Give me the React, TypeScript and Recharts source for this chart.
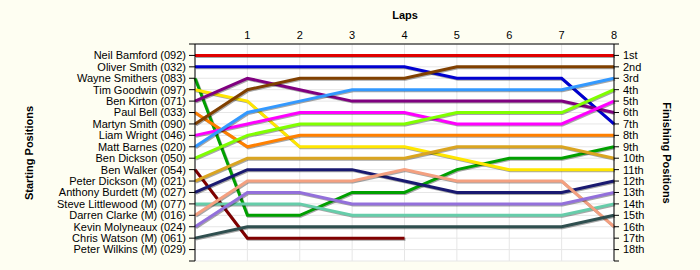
import React from 'react';
import { LineChart, Line, XAxis, YAxis, CartesianGrid, Label } from 'recharts';

const laps = [0, 1, 2, 3, 4, 5, 6, 7, 8];
const lapTicks = [1, 2, 3, 4, 5, 6, 7, 8];

const startingNames = [
  'Neil Bamford (092)',
  'Oliver Smith (032)',
  'Wayne Smithers (083)',
  'Tim Goodwin (097)',
  'Ben Kirton (071)',
  'Paul Bell (033)',
  'Martyn Smith (090)',
  'Liam Wright (046)',
  'Matt Barnes (020)',
  'Ben Dickson (050)',
  'Ben Walker (054)',
  'Peter Dickson (M) (021)',
  'Anthony Burdett (M) (027)',
  'Steve Littlewood (M) (077)',
  'Darren Clarke (M) (016)',
  'Kevin Molyneaux (024)',
  'Chris Watson (M) (061)',
  'Peter Wilkins (M) (029)',
];

const finishLabels = [
  '1st', '2nd', '3rd', '4th', '5th', '6th', '7th', '8th', '9th', '10th',
  '11th', '12th', '13th', '14th', '15th', '16th', '17th', '18th',
];

const positionTicks = [0, 1, 2, 3, 4, 5, 6, 7, 8, 9, 10, 11, 12, 13, 14, 15, 16, 17, 18, 19];

// position per lap (lap 0 = starting position)
const neilBamford = [1, 1, 1, 1, 1, 1, 1, 1, 1];
const oliverSmith = [2, 2, 2, 2, 2, 3, 3, 3, 7];
const wayneSmithers = [3, 15, 15, 13, 13, 11, 10, 10, 9];
const timGoodwin = [4, 5, 9, 9, 9, 10, 11, 11, 11];
const benKirton = [5, 3, 4, 5, 5, 5, 5, 5, 6];
const paulBell = [6, 9, 8, 8, 8, 8, 8, 8, 8];
const martynSmith = [7, 4, 3, 3, 3, 2, 2, 2, 2];
const liamWright = [8, 7, 6, 6, 6, 7, 7, 7, 5];
const mattBarnes = [9, 6, 5, 4, 4, 4, 4, 4, 3];
const benDickson = [10, 8, 7, 7, 7, 6, 6, 6, 4];
const benWalker = [11, 17, 17, 17, 17, null, null, null, null];
const peterDickson = [12, 10, 10, 10, 10, 9, 9, 9, 10];
const anthonyBurdett = [13, 11, 11, 11, 12, 13, 13, 13, 12];
const steveLittlewood = [14, 14, 14, 15, 15, 15, 15, 15, 14];
const darrenClarke = [15, 12, 12, 12, 11, 12, 12, 12, 16];
const kevinMolyneaux = [16, 13, 13, 14, 14, 14, 14, 14, 13];
const chrisWatson = [17, 16, 16, 16, 16, 16, 16, 16, 15];

const series = [
  { key: 'neil', values: neilBamford, color: '#e00000' },
  { key: 'oliver', values: oliverSmith, color: '#0000d0' },
  { key: 'wayne', values: wayneSmithers, color: '#00a000' },
  { key: 'tim', values: timGoodwin, color: '#ffe600' },
  { key: 'kirton', values: benKirton, color: '#800080' },
  { key: 'paul', values: paulBell, color: '#ff8000' },
  { key: 'martyn', values: martynSmith, color: '#804000' },
  { key: 'liam', values: liamWright, color: '#ff00ff' },
  { key: 'matt', values: mattBarnes, color: '#3399ff' },
  { key: 'bdickson', values: benDickson, color: '#80ff00' },
  { key: 'walker', values: benWalker, color: '#800000' },
  { key: 'pdickson', values: peterDickson, color: '#daa520' },
  { key: 'anthony', values: anthonyBurdett, color: '#191970' },
  { key: 'steve', values: steveLittlewood, color: '#66cdaa' },
  { key: 'darren', values: darrenClarke, color: '#f4a080' },
  { key: 'kevin', values: kevinMolyneaux, color: '#9370db' },
  { key: 'chris', values: chrisWatson, color: '#2f4f4f' },
];

const data = laps.map((lap, i) => {
  const row: Record<string, number | null> = { lap };
  series.forEach((s) => {
    row[s.key] = s.values[i];
  });
  return row;
});

const FONT = '"Liberation Sans", Arial, sans-serif';
const tickStyle = { fontSize: 11, fill: '#000', fontFamily: FONT };

export default function App() {
  return (
    <div
      style={{
        position: 'absolute',
        left: 0,
        top: 0,
        width: 700,
        height: 270,
        background: '#fefef2',
        fontFamily: FONT,
      }}
    >
      <style>{`.shadowed .recharts-line-curve { filter: drop-shadow(1px 1px 0px rgba(0,0,0,0.35)); }`}</style>
      <LineChart
        width={700}
        height={270}
        data={data}
        margin={{ top: 0, right: 0, bottom: 9, left: 0 }}
      >
        <CartesianGrid stroke="#e6e6e6" fill="#ffffff" yAxisId="left" />
        <XAxis
          dataKey="lap"
          type="number"
          orientation="top"
          domain={[0, 8]}
          ticks={lapTicks}
          height={44}
          axisLine={{ stroke: '#000' }}
          tickLine={false}
          tickSize={3}
          tickMargin={2}
          tick={tickStyle}
          interval={0}
        >
          <Label
            content={() => (
              <text x={405} y={19} textAnchor="middle" fontSize={11} fontWeight="bold" fontFamily={FONT} fill="#000">
                Laps
              </text>
            )}
          />
        </XAxis>
        <YAxis
          yAxisId="left"
          type="number"
          orientation="left"
          domain={[0, 19]}
          reversed
          ticks={positionTicks}
          interval={0}
          width={195}
          axisLine={{ stroke: '#000' }}
          tickLine={{ stroke: '#000' }}
          tickSize={6}
          tickMargin={3}
          tick={tickStyle}
          tickFormatter={(v: number) => (v >= 1 && v <= 18 ? startingNames[v - 1] : '')}
        >
          <Label
            content={() => (
              <text
                x={0}
                y={0}
                transform="translate(33,153) rotate(-90)"
                textAnchor="middle"
                fontSize={11}
                fontWeight="bold"
                fontFamily={FONT}
                fill="#000"
              >
                Starting Positions
              </text>
            )}
          />
        </YAxis>
        <YAxis
          yAxisId="right"
          type="number"
          orientation="right"
          domain={[0, 19]}
          allowDataOverflow
          reversed
          ticks={positionTicks}
          interval={0}
          width={86}
          axisLine={{ stroke: '#000' }}
          tickLine={{ stroke: '#000' }}
          tickSize={5}
          tickMargin={4}
          tick={tickStyle}
          tickFormatter={(v: number) => (v >= 1 && v <= 18 ? finishLabels[v - 1] : '')}
        >
          <Label
            content={() => (
              <text
                x={0}
                y={0}
                transform="translate(663,153) rotate(90)"
                textAnchor="middle"
                fontSize={11}
                fontWeight="bold"
                fontFamily={FONT}
                fill="#000"
              >
                Finishing Positions
              </text>
            )}
          />
        </YAxis>
        <Line
          yAxisId="right"
          dataKey="neil"
          type="linear"
          stroke="transparent"
          strokeWidth={0}
          dot={false}
          activeDot={false}
          legendType="none"
          isAnimationActive={false}
        />
        {series.map((s) => (
          <Line
            key={s.key}
            className="shadowed"
            yAxisId="left"
            dataKey={s.key}
            type="linear"
            stroke={s.color}
            strokeWidth={3}
            dot={false}
            activeDot={false}
            isAnimationActive={false}
            connectNulls={false}
          />
        ))}
      </LineChart>
    </div>
  );
}
